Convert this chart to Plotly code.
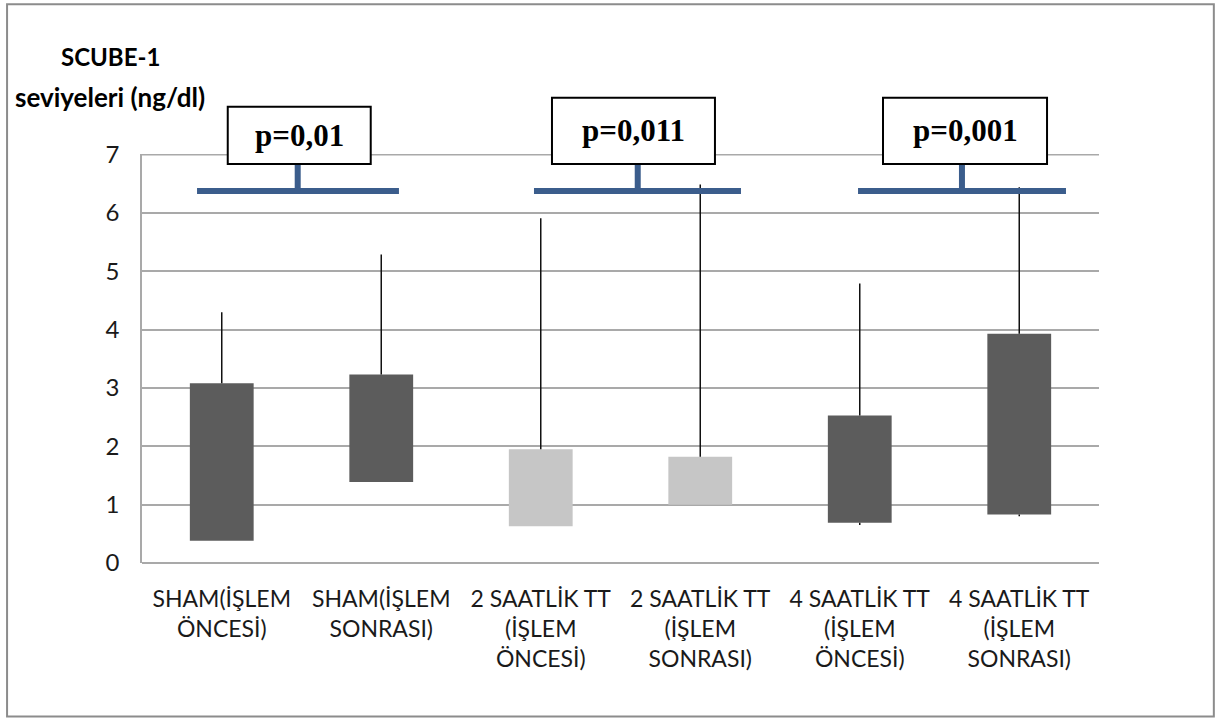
import plotly.graph_objects as go

# ---- data ----
categories = [
    "SHAM(İŞLEM<br>ÖNCESİ)",
    "SHAM(İŞLEM<br>SONRASI)",
    "2 SAATLİK TT<br>(İŞLEM<br>ÖNCESİ)",
    "2 SAATLİK TT<br>(İŞLEM<br>SONRASI)",
    "4 SAATLİK TT<br>(İŞLEM<br>ÖNCESİ)",
    "4 SAATLİK TT<br>(İŞLEM<br>SONRASI)",
]
box_low = [0.38, 1.39, 0.63, 1.00, 0.69, 0.83]
box_high = [3.08, 3.23, 1.95, 1.82, 2.53, 3.93]
whisker_max = [4.30, 5.29, 5.91, 6.49, 4.79, 6.44]
whisker_min = [0.38, 1.39, 0.63, 1.00, 0.65, 0.80]
bar_colors = ["#5c5c5c", "#5c5c5c", "#c6c6c6", "#c6c6c6", "#5c5c5c", "#5c5c5c"]
p_values = ["p=0,01", "p=0,011", "p=0,001"]
y_ticks = [0, 1, 2, 3, 4, 5, 6, 7]

idx = list(range(len(categories)))
grid_color = "#a9a9a9"

fig = go.Figure()

# whiskers (upper and lower)
wx, wy = [], []
for i in idx:
    wx += [i, i, None]
    wy += [box_high[i], whisker_max[i], None]
    if whisker_min[i] < box_low[i]:
        wx += [i, i, None]
        wy += [box_low[i], whisker_min[i], None]
fig.add_trace(go.Scatter(x=wx, y=wy, mode="lines",
                         line=dict(color="#111111", width=1.5),
                         hoverinfo="skip", showlegend=False))

# floating boxes
fig.add_trace(go.Bar(
    x=idx,
    y=[h - l for h, l in zip(box_high, box_low)],
    base=box_low,
    width=0.4,
    marker=dict(color=bar_colors, line=dict(width=0)),
    showlegend=False,
))

# ---- significance brackets / boxes (paper coords) ----
bracket_color = "#3b5d8c"
brackets = [
    # (x0, x1, stem_x, box_x0, box_x1, box_y1)
    (0.0575, 0.2685, 0.1627, 0.0896, 0.2390, 1.1156),
    (0.4096, 0.6259, 0.5180, 0.4284, 0.5987, 1.1375),
    (0.7482, 0.9655, 0.8568, 0.7743, 0.9457, 1.1375),
]
bracket_y = 0.9096
box_y0 = 0.9756
shapes = []
annotations = []

# top gridline (at the upper end of the axis range)
shapes.append(dict(type="line", xref="paper", yref="y",
                   x0=0, x1=1, y0=y_ticks[-1], y1=y_ticks[-1],
                   line=dict(color=grid_color, width=1.5), layer="below"))

for (x0, x1, sx, bx0, bx1, by1), ptxt in zip(brackets, p_values):
    shapes.append(dict(type="line", xref="paper", yref="paper",
                       x0=x0, x1=x1, y0=bracket_y, y1=bracket_y,
                       line=dict(color=bracket_color, width=6)))
    shapes.append(dict(type="line", xref="paper", yref="paper",
                       x0=sx, x1=sx, y0=bracket_y, y1=box_y0,
                       line=dict(color=bracket_color, width=6)))
    shapes.append(dict(type="rect", xref="paper", yref="paper",
                       x0=bx0, x1=bx1, y0=box_y0, y1=by1,
                       fillcolor="white", line=dict(color="black", width=2)))
    annotations.append(dict(xref="paper", yref="paper",
                            x=(bx0 + bx1) / 2, y=(box_y0 + by1) / 2,
                            xanchor="center", yanchor="middle",
                            text="<b>" + ptxt + "</b>", showarrow=False,
                            font=dict(family="Liberation Serif", size=31, color="black")))

# outer frame
shapes.append(dict(type="rect", xref="paper", yref="paper",
                   x0=-0.141, x1=1.120, y0=-0.3755, y1=1.366,
                   line=dict(color="#8c8c8c", width=2), fillcolor="rgba(0,0,0,0)",
                   layer="below"))

# axis title (two lines)
annotations.append(dict(xref="paper", yref="paper", x=-0.0334, y=1.2394,
                        xanchor="center", yanchor="middle", showarrow=False,
                        text="<b>SCUBE-1</b>",
                        font=dict(family="Lato", size=24, color="black")))
annotations.append(dict(xref="paper", yref="paper", x=-0.0334, y=1.139,
                        xanchor="center", yanchor="middle", showarrow=False,
                        text="<b>seviyeleri (ng/dl)</b>",
                        font=dict(family="Lato", size=26, color="black")))

fig.update_layout(
    width=1217, height=720,
    margin=dict(l=142, r=118, t=154, b=157, autoexpand=False),
    paper_bgcolor="white", plot_bgcolor="white",
    shapes=shapes, annotations=annotations,
    font=dict(family="Lato", color="#1a1a1a"),
    bargap=0.6,
)
fig.update_xaxes(
    tickmode="array", tickvals=idx, ticktext=categories,
    range=[-0.5, len(categories) - 0.5],
    showgrid=False, zeroline=False, showline=False,
    ticks="", tickfont=dict(family="Lato", size=23, color="#1a1a1a"),
    tickangle=0, ticklabelstandoff=20,
)
fig.update_yaxes(
    range=[0, 7.012], tickvals=y_ticks,
    showgrid=True, gridcolor=grid_color, gridwidth=1.5,
    zeroline=True, zerolinecolor=grid_color, zerolinewidth=1.5,
    showline=True, linecolor=grid_color, linewidth=1.5,
    ticks="", tickfont=dict(family="Lato", size=24, color="#1a1a1a"),
    ticklabelstandoff=16,
)

fig.write_html(
    "out.html",
    config={"displayModeBar": False},
    post_script="document.body.style.margin='0';document.body.style.overflow='hidden';"
                "document.documentElement.style.overflow='hidden';",
)
